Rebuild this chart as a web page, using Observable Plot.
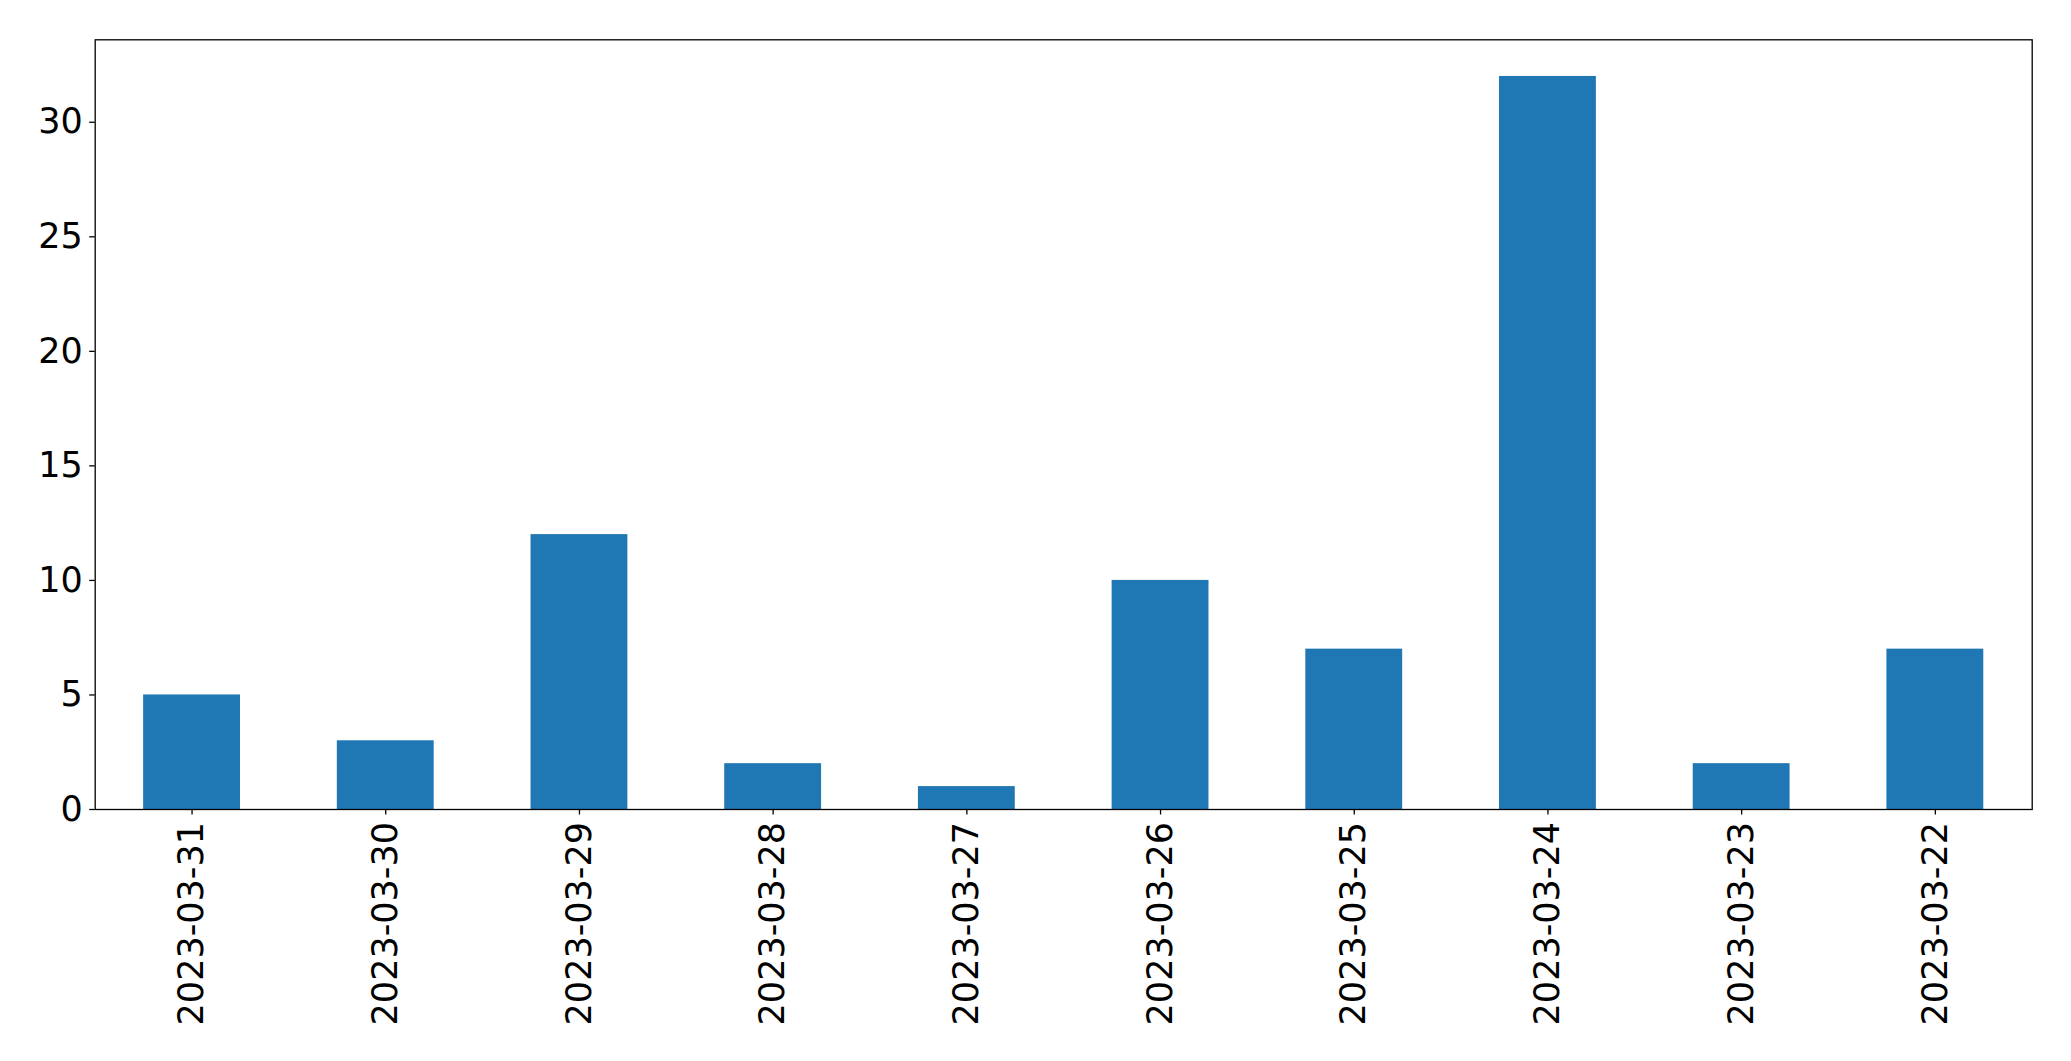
<!DOCTYPE html>
<html>
<head>
<meta charset="utf-8">
<script src="https://cdn.jsdelivr.net/npm/d3@7"></script>
<script src="https://cdn.jsdelivr.net/npm/@observablehq/plot@0.6"></script>
<style>
  html, body { margin: 0; padding: 0; background: #fff; }
  svg { display: block; }
</style>
</head>
<body>
<div id="chart"></div>
<script>
const dates = ["2023-03-31","2023-03-30","2023-03-29","2023-03-28","2023-03-27","2023-03-26","2023-03-25","2023-03-24","2023-03-23","2023-03-22"];
const counts = [5, 3, 12, 2, 1, 10, 7, 32, 2, 7];
const yTicks = [0, 5, 10, 15, 20, 25, 30];

const data = dates.map((d, i) => ({date: d, count: counts[i]}));

const chart = Plot.plot({
  width: 2071,
  height: 1061,
  marginLeft: 94.7,
  marginRight: 39.3,
  marginTop: 39.3,
  marginBottom: 252,
  style: {fontFamily: "DejaVu Sans", fontSize: "35px", color: "#000", background: "#fff"},
  x: {domain: dates, paddingInner: 0.5, paddingOuter: 0.25, round: false, label: null},
  y: {domain: [0, 33.6], label: null},
  marks: [
    Plot.barY(data, {x: "date", y: "count", fill: "#1f77b4"}),
    Plot.frame({stroke: "#000", strokeWidth: 1.3}),
    Plot.axisY({ticks: yTicks, tickSize: 5.5, tickPadding: 7, label: null, fontSize: 35, strokeWidth: 1.3}),
    Plot.axisX({tickRotate: -90, tickSize: 5.5, tickPadding: 7, label: null, fontSize: 35, strokeWidth: 1.3})
  ]
});
document.getElementById("chart").append(chart);
</script>
</body>
</html>
